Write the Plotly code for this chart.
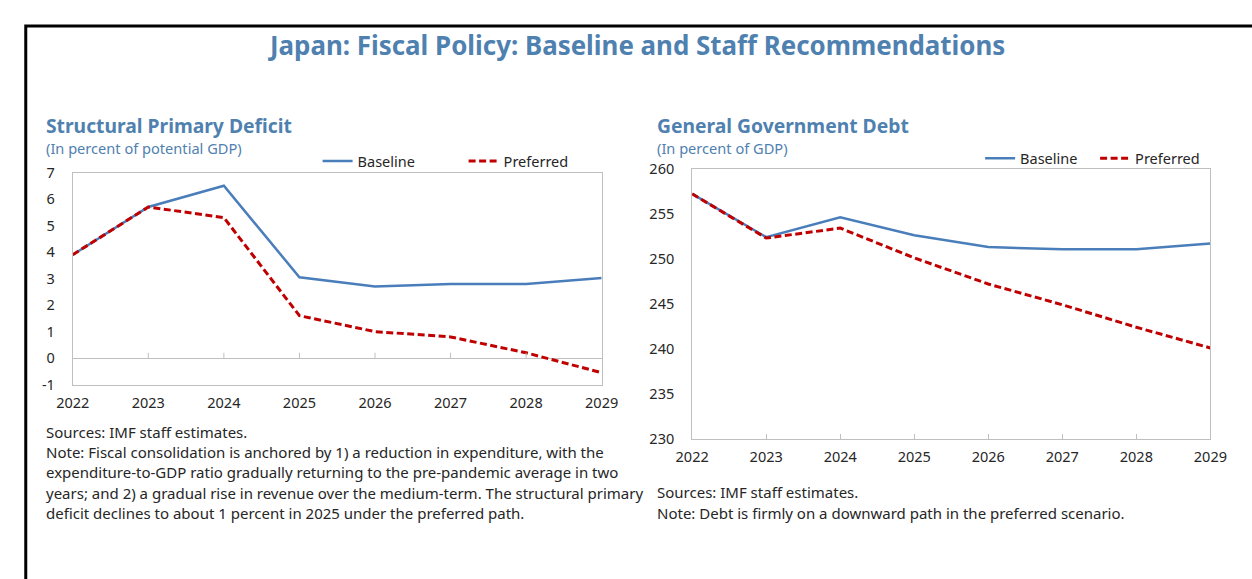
import plotly.graph_objects as go

# Projection years shared by both panels
years = [2022, 2023, 2024, 2025, 2026, 2027, 2028, 2029]

# Structural primary deficit, percent of potential GDP
deficit_baseline = [3.9, 5.7, 6.5, 3.05, 2.7, 2.8, 2.8, 3.02]
deficit_preferred = [3.9, 5.7, 5.3, 1.6, 1.0, 0.8, 0.2, -0.55]

# General government debt, percent of GDP
debt_baseline = [257.2, 252.4, 254.6, 252.6, 251.3, 251.05, 251.05, 251.7]
debt_preferred = [257.2, 252.3, 253.4, 250.1, 247.2, 244.9, 242.4, 240.1]

deficit_ticks = [-1, 0, 1, 2, 3, 4, 5, 6, 7]
deficit_tick_labels = ["-1", "0", "1", "2", "3", "4", "5", "6", "7"]
debt_ticks = [230, 235, 240, 245, 250, 255, 260]

W, H = 1252, 579
BLUE = "#4A7EBB"
RED = "#C00000"
TITLE_BLUE = "#4F81B0"
TEXT = "#262626"
BOX = "#BFBFBF"
FONT = "Noto Sans"


def px_x(p):
    return p / W


def px_y(p):
    return 1 - p / H


fig = go.Figure()

fig.add_trace(go.Scatter(x=years, y=deficit_baseline, name="Baseline", mode="lines",
                         line=dict(color=BLUE, width=2.5), xaxis="x", yaxis="y",
                         legend="legend"))
fig.add_trace(go.Scatter(x=years, y=deficit_preferred, name="Preferred", mode="lines",
                         line=dict(color=RED, width=3, dash="7px,3.5px"), xaxis="x", yaxis="y",
                         legend="legend"))
fig.add_trace(go.Scatter(x=years, y=debt_baseline, name="Baseline", mode="lines",
                         line=dict(color=BLUE, width=2.5), xaxis="x2", yaxis="y2",
                         legend="legend2"))
fig.add_trace(go.Scatter(x=years, y=debt_preferred, name="Preferred", mode="lines",
                         line=dict(color=RED, width=3, dash="7px,3.5px"), xaxis="x2", yaxis="y2",
                         legend="legend2"))

axis_common = dict(showgrid=False, showline=True, mirror=True, linecolor=BOX, linewidth=1,
                   tickfont=dict(family=FONT, size=14.5, color=TEXT))

shapes = []
# Category tick marks sitting on the zero line of the deficit panel
for yr in years[1:-1]:
    shapes.append(dict(type="line", xref="x", yref="y", x0=yr, x1=yr, y0=0, y1=0.2,
                       line=dict(color=BOX, width=1)))
# Outer frame
shapes.append(dict(type="rect", xref="paper", yref="paper",
                   x0=px_x(9), x1=1.05, y0=-0.1, y1=px_y(15.5),
                   line=dict(color="black", width=3)))

annotations = [
    dict(text="<b>Japan: Fiscal Policy: Baseline and Staff Recommendations</b>",
         x=px_x(637), y=px_y(35), xanchor="center", yanchor="middle",
         font=dict(family=FONT, size=25.9, color=TITLE_BLUE)),
    dict(text="<b>Structural Primary Deficit</b>", x=px_x(28), y=px_y(118.5),
         xanchor="left", yanchor="middle", font=dict(family=FONT, size=19.3, color=TITLE_BLUE)),
    dict(text="(In percent of potential GDP)", x=px_x(28), y=px_y(142),
         xanchor="left", yanchor="middle", font=dict(family=FONT, size=14.6, color=TITLE_BLUE)),
    dict(text="<b>General Government Debt</b>", x=px_x(656), y=px_y(118.5),
         xanchor="left", yanchor="middle", font=dict(family=FONT, size=19.3, color=TITLE_BLUE)),
    dict(text="(In percent of GDP)", x=px_x(656), y=px_y(142),
         xanchor="left", yanchor="middle", font=dict(family=FONT, size=14.6, color=TITLE_BLUE)),
]

left_notes = [
    "Sources: IMF staff estimates.",
    "Note: Fiscal consolidation is anchored by 1) a reduction in expenditure, with the",
    "expenditure-to-GDP ratio gradually returning to the pre-pandemic average in two",
    "years; and 2) a gradual rise in revenue over the medium-term. The structural primary",
    "deficit declines to about 1 percent in 2025 under the preferred path.",
]
right_notes = [
    "Sources: IMF staff estimates.",
    "Note: Debt is firmly on a downward path in the preferred scenario.",
]
for i, line in enumerate(left_notes):
    annotations.append(dict(text=line, x=px_x(28), y=px_y(436 + 21 * i), xanchor="left",
                            yanchor="middle", font=dict(family=FONT, size=15, color=TEXT)))
for i, line in enumerate(right_notes):
    annotations.append(dict(text=line, x=px_x(656), y=px_y(498 + 21.5 * i), xanchor="left",
                            yanchor="middle", font=dict(family=FONT, size=15, color=TEXT)))
for a in annotations:
    a.update(xref="paper", yref="paper", showarrow=False)

legend_common = dict(orientation="h", bgcolor="rgba(0,0,0,0)", yanchor="middle",
                     xanchor="left", font=dict(family=FONT, size=14.5, color=TEXT),
                     entrywidthmode="pixels", traceorder="normal")

fig.update_layout(
    width=W, height=H,
    margin=dict(l=0, r=0, t=0, b=0),
    paper_bgcolor="white", plot_bgcolor="white",
    showlegend=True,
    xaxis=dict(domain=[px_x(57.3), px_x(601)], anchor="y", range=[2022, 2029],
               tickvals=years, ticks="", zeroline=False, ticklabelstandoff=5, **axis_common),
    yaxis=dict(domain=[px_y(387), px_y(167.3)], anchor="x", range=[-1, 7],
               tickvals=deficit_ticks, ticktext=deficit_tick_labels, ticks="",
               zeroline=True, zerolinecolor=BOX, zerolinewidth=1, ticklabelstandoff=14,
               **axis_common),
    xaxis2=dict(domain=[px_x(694), px_x(1226.7)], anchor="y2", range=[2022, 2029],
                tickvals=years, ticks="inside", ticklen=5, tickcolor=BOX, zeroline=False,
                ticklabelstandoff=5, **axis_common),
    yaxis2=dict(domain=[px_y(443.3), px_y(163.3)], anchor="x2", range=[230, 260],
                tickvals=debt_ticks, ticks="", zeroline=False, ticklabelstandoff=14,
                **axis_common),
    legend=dict(x=px_x(309), y=px_y(155.5), entrywidth=101, **legend_common),
    legend2=dict(x=px_x(990), y=px_y(152.5), entrywidth=70, **legend_common),
    shapes=shapes,
    annotations=annotations,
)

fig.write_html("out.html")
